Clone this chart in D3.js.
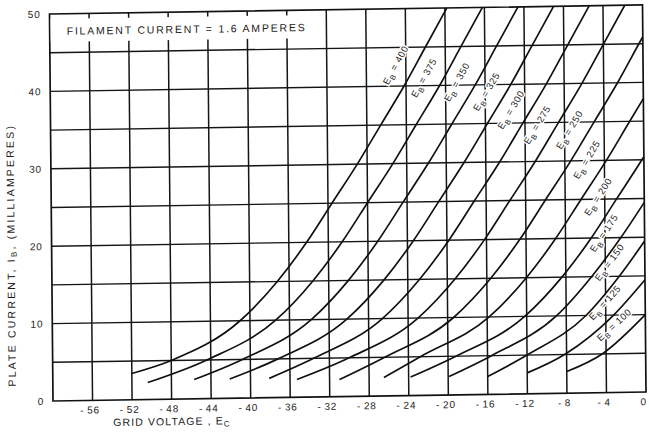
<!DOCTYPE html>
<html>
<head>
<meta charset="utf-8">
<script src="https://cdn.jsdelivr.net/npm/d3@7"></script>
<style>
  body { margin: 0; background: #fff; }
  text { font-family: "Liberation Sans", Arial, sans-serif; fill: #1c1c1c; }
</style>
</head>
<body>
<svg id="chart" width="649" height="437"></svg>
<script>
// plate voltage of each curve, left to right
var plateVolts = [400, 375, 350, 325, 300, 275, 250, 225, 200, 175, 150, 125, 100];

// [grid volts, plate milliamperes]
var eb400 = [[-52,3.4],[-48,5],[-41,10],[-37.2,15],[-34.2,20],[-31.6,25],[-29,30],[-26.6,35],[-24.2,40],[-22,45],[-19.8,50]];
var eb375 = [[-50.4,2.2],[-44.4,5],[-37.4,10],[-33.6,15],[-30.6,20],[-28,25],[-25.4,30],[-23,35],[-20.6,40],[-18.4,45],[-16.2,50]];
var eb350 = [[-45.7,2.5],[-40.8,5],[-33.8,10],[-30,15],[-27,20],[-24.4,25],[-21.8,30],[-19.4,35],[-17,40],[-14.8,45],[-12.6,50]];
var eb325 = [[-42.1,2.5],[-37.2,5],[-30.2,10],[-26.4,15],[-23.4,20],[-20.8,25],[-18.2,30],[-15.8,35],[-13.4,40],[-11.2,45],[-9,50]];
var eb300 = [[-38.1,2.5],[-33.6,5],[-26.6,10],[-22.8,15],[-19.8,20],[-17.2,25],[-14.6,30],[-12.2,35],[-9.8,40],[-7.6,45],[-5.4,50]];
var eb275 = [[-35.3,2.3],[-30,5],[-23,10],[-19.2,15],[-16.2,20],[-13.6,25],[-11,30],[-8.6,35],[-6.2,40],[-4,45],[-1.8,50]];
var eb250 = [[-31,2.2],[-26.4,5],[-19.4,10],[-15.6,15],[-12.6,20],[-10,25],[-7.4,30],[-5,35],[-2.6,40],[-0.4,45],[0,45.9]];
var eb225 = [[-26.5,2.4],[-22.8,5],[-15.8,10],[-12,15],[-9,20],[-6.4,25],[-3.8,30],[-1.4,35],[0,37.9]];
var eb200 = [[-23.8,2.4],[-19.2,5],[-12.2,10],[-8.4,15],[-5.4,20],[-2.8,25],[-0.2,30],[0,30.4]];
var eb175 = [[-19.9,2.4],[-15.6,5],[-9,10],[-5.4,15],[-2.4,20],[0,24.5]];
var eb150 = [[-16,2.3],[-12,5],[-6,10],[-2.6,15],[0,19.5]];
var eb125 = [[-12,2.7],[-8.2,5],[-3.2,10],[0,14.5]];
var eb100 = [[-8,2.8],[-4.4,5],[0,10]];

var curves = [eb400, eb375, eb350, eb325, eb300, eb275, eb250, eb225, eb200, eb175, eb150, eb125, eb100];

// axis ticks
var xTicks = [-56, -52, -48, -44, -40, -36, -32, -28, -24, -20, -16, -12, -8, -4, 0];
var yTicks = [0, 10, 20, 30, 40, 50];
var yGrid = [5, 10, 15, 20, 25, 30, 35, 40, 45];

// current (mA) where each curve's label sits
var labelAt = [42.7, 41, 40.4, 39.1, 36.7, 34.7, 34, 30.1, 25.3, 20.6, 16.8, 11.6, 8.7];

var plotL = 53, plotR = 646, plotT = 14, plotB = 401;

var x = d3.scaleLinear().domain([-60, 0]).range([plotL, plotR]);
var y = d3.scaleLinear().domain([0, 50]).range([plotB, plotT]);

var svg = d3.select("#chart");

// the scanned sheet is slightly skewed
var g = svg.append("g")
    .attr("transform", "translate(53,401) matrix(1,-0.0152,0.009,1,0,0) translate(-53,-401)");

// grid
g.selectAll(".vgrid")
    .data(xTicks.slice(0, -1))
    .enter()
    .append("line")
    .attr("x1", function(d) { return x(d); })
    .attr("x2", function(d) { return x(d); })
    .attr("y1", plotT)
    .attr("y2", plotB)
    .attr("stroke", "#151515")
    .attr("stroke-width", 1.5);

g.selectAll(".hgrid")
    .data(yGrid)
    .enter()
    .append("line")
    .attr("x1", plotL)
    .attr("x2", plotR)
    .attr("y1", function(d) { return y(d); })
    .attr("y2", function(d) { return y(d); })
    .attr("stroke", "#151515")
    .attr("stroke-width", 1.4);

g.append("rect")
    .attr("x", plotL).attr("y", plotT)
    .attr("width", plotR - plotL).attr("height", plotB - plotT)
    .attr("fill", "none")
    .attr("stroke", "#111")
    .attr("stroke-width", 1.7);

// title box
g.append("rect")
    .attr("x", plotL + 1).attr("y", 19)
    .attr("width", 262).attr("height", 23)
    .attr("fill", "#fff");

g.append("text")
    .attr("x", 70).attr("y", 35)
    .attr("font-size", 10.5)
    .attr("textLength", 238)
    .attr("lengthAdjust", "spacing")
    .text("FILAMENT CURRENT = 1.6 AMPERES");

// curves
g.append("clipPath").attr("id", "plot")
    .append("rect")
    .attr("x", plotL).attr("y", plotT)
    .attr("width", plotR - plotL).attr("height", plotB - plotT);

var line = d3.line()
    .x(function(d) { return x(d[0]); })
    .y(function(d) { return y(d[1]); })
    .curve(d3.curveMonotoneX);

var curveLayer = g.append("g").attr("clip-path", "url(#plot)");

// curve labels, set along each curve a little to its left
function spot(pts, ma) {
    for (var i = 1; i < pts.length; i++) {
        if (pts[i][1] >= ma) {
            var a = pts[i - 1], b = pts[i];
            var t = (ma - a[1]) / (b[1] - a[1]);
            var v = a[0] + t * (b[0] - a[0]);
            var ang = Math.atan2(y(a[1]) - y(b[1]), x(b[0]) - x(a[0])) * 180 / Math.PI;
            return { v: v, ang: ang };
        }
    }
    return { v: pts[pts.length - 1][0], ang: 50 };
}

// labels go under the curves, with a white knock-out over the grid
var labels = g.append("g").selectAll(".eb")
    .data(plateVolts)
    .enter()
    .append("text")
    .attr("font-size", 9.5)
    .attr("letter-spacing", 0.6)
    .attr("text-anchor", "middle")
    .attr("stroke", "#fff")
    .attr("stroke-width", 3)
    .attr("paint-order", "stroke")
    .attr("transform", function(d, i) {
        var s = spot(curves[i], labelAt[i]);
        return "translate(" + x(s.v - 2.0) + "," + y(labelAt[i]) + ") rotate(" + (-s.ang) + ") translate(0,3)";
    });
labels.append("tspan").text("E");
labels.append("tspan").attr("dy", 3).attr("font-size", 7.5).text("B");
labels.append("tspan").attr("dy", -3).text(function(d) { return " = " + d; });

curveLayer.raise();
curveLayer.selectAll("path")
    .data(curves)
    .enter()
    .append("path")
    .attr("d", line)
    .attr("fill", "none")
    .attr("stroke", "#111")
    .attr("stroke-width", 1.7);

// axes
var xAxis = d3.axisBottom(x)
    .tickValues(xTicks)
    .tickSize(0)
    .tickPadding(6)
    .tickFormat(function(d) { return d === 0 ? "0" : "-\u2009" + Math.abs(d); });

var gx = g.append("g").attr("transform", "translate(0," + plotB + ")").call(xAxis);
gx.select(".domain").remove();
gx.selectAll("text")
    .attr("font-family", "Liberation Sans, Arial, sans-serif")
    .attr("font-size", 10)
    .attr("letter-spacing", 0.8)
    .attr("dx", -3)
    .attr("fill", "#1c1c1c");

var yAxis = d3.axisLeft(y)
    .tickValues(yTicks)
    .tickSize(0)
    .tickPadding(9);

var gy = g.append("g").attr("transform", "translate(" + plotL + ",0)").call(yAxis);
gy.select(".domain").remove();
gy.selectAll("text")
    .attr("font-family", "Liberation Sans, Arial, sans-serif")
    .attr("font-size", 10)
    .attr("letter-spacing", 0.8)
    .attr("fill", "#1c1c1c");

// axis titles
var xt = g.append("text")
    .attr("x", 113).attr("y", 427)
    .attr("font-size", 10.5)
    .attr("letter-spacing", 1.1);
xt.append("tspan").text("GRID VOLTAGE , E");
xt.append("tspan").attr("dy", 2).attr("font-size", 8).text("C");

var yt = g.append("text")
    .attr("transform", "translate(16,386) rotate(-90)")
    .attr("font-size", 10.5)
    .attr("letter-spacing", 2.2);
yt.append("tspan").text("PLATE CURRENT, I");
yt.append("tspan").attr("dy", 2).attr("font-size", 8).text("B");
yt.append("tspan").attr("dy", -2).text(", (MILLIAMPERES)");
</script>
</body>
</html>
